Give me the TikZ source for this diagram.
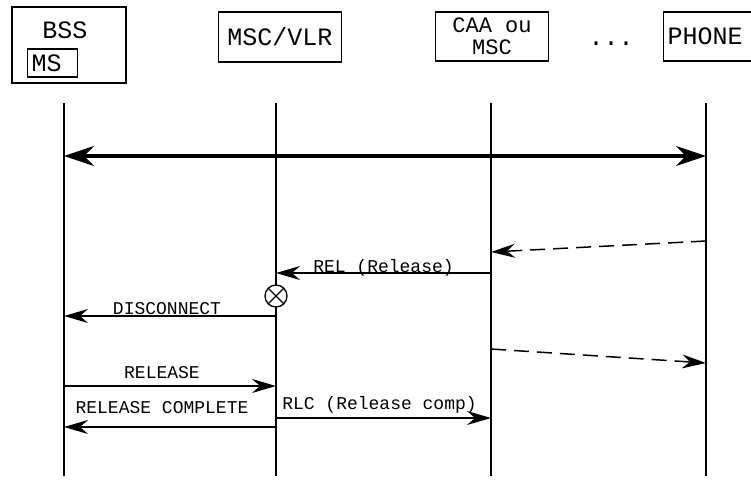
\documentclass[tikz,border=0pt]{standalone}
\usepackage{fontspec}
\setmonofont{Liberation Mono}
\usetikzlibrary{arrows.meta, positioning, calc}
\tikzset{
    seqdiagram/.style={x=1pt, y=-1pt, >={Stealth[length=24pt, width=14pt, inset=8pt]}, font=\ttfamily},
    entity/.style={draw, line width=1.2pt, inner sep=2pt, align=center, font=\ttfamily\fontsize{25}{16}\selectfont},
    lifeline/.style={line width=1.5pt},
    msg/.style={->, line width=1.5pt},
    dmsg/.style={->, line width=1.5pt, dash pattern=on 15pt off 8pt},
    bigmsg/.style={{Stealth[length=30pt, width=20pt, inset=10pt]}-{Stealth[length=30pt, width=20pt, inset=10pt]}, line width=3.5pt},
    lbl/.style={anchor=base, inner sep=0pt, font=\ttfamily\fontsize{18}{20}\selectfont},
    % circled cross on a lifeline
    xmark/.style={draw, circle, fill=white, line width=1.3pt, minimum size=22pt, inner sep=0pt,
        path picture={\draw[line width=1.3pt] (path picture bounding box.north west) -- (path picture bounding box.south east)
                      (path picture bounding box.north east) -- (path picture bounding box.south west);}},
}

\begin{document}
\begin{tikzpicture}[seqdiagram]
        \useasboundingbox (0,0) rectangle (751,479);

        % entities
        \node[entity, minimum width=114pt, minimum height=76pt] (bss) at (69,45) {};
        \node[font=\ttfamily\fontsize{25}{16}\selectfont, anchor=base] (bsstxt) at (65,38) {BSS};
        \node[draw, line width=1.2pt, anchor=west, text width=42pt, inner sep=4pt, minimum height=28pt,
              font=\ttfamily\fontsize{25}{16}\selectfont] (ms) at (27,63) {MS};
        \node[entity, minimum width=123pt, minimum height=50pt] (msc) at (280,37) {MSC/VLR};
        \node[entity, minimum width=113pt, minimum height=49pt, font=\ttfamily\fontsize{22}{22}\selectfont] (caa) at (492,36.5) {CAA ou\\MSC};
        \node[font=\ttfamily\fontsize{25}{16}\selectfont] (dots) at (611,44) {...};
        \node[entity, anchor=west, text width=92pt, inner xsep=4pt, minimum height=49pt, align=left] (phone) at (663,36.5) {PHONE};

        % lifelines
        \coordinate (bssT) at (64,103);   \coordinate (bssB) at (64,476);
        \coordinate (mscT) at (276,103);  \coordinate (mscB) at (276,476);
        \coordinate (caaT) at (491,103);  \coordinate (caaB) at (491,476);
        \coordinate (phoT) at (706,103);  \coordinate (phoB) at (706,476);
        \draw[lifeline] (bssT) -- (bssB);
        \draw[lifeline] (mscT) -- (mscB);
        \draw[lifeline] (caaT) -- (caaB);
        \draw[lifeline] (phoT) -- (phoB);

        % messages
        \draw[bigmsg] (bssT |- 0,156) -- (phoT |- 0,156);
        \draw[dmsg] (phoT |- 0,241) -- (caaT |- 0,252);
        \draw[msg] (caaT |- 0,273) -- node[lbl, yshift=1pt] {REL (Release)} (mscT |- 0,273);
        \node[xmark] (cut) at (276,296) {};
        \draw[msg] (mscT |- 0,316) -- node[lbl, yshift=2pt, xshift=-3pt] {DISCONNECT} (bssT |- 0,316);
        \draw[dmsg] (caaT |- 0,349) -- (phoT |- 0,363);
        \draw[msg] (bssT |- 0,386) -- node[lbl, yshift=8pt, xshift=-8pt] {RELEASE} (mscT |- 0,386);
        \draw[msg] (mscT |- 0,418) -- node[lbl, yshift=9pt, xshift=-4pt] {RLC (Release comp)} (caaT |- 0,418);
        \draw[msg] (mscT |- 0,427) -- node[lbl, yshift=14pt, xshift=-8pt] {RELEASE COMPLETE} (bssT |- 0,427);
    \end{tikzpicture}
\end{document}
